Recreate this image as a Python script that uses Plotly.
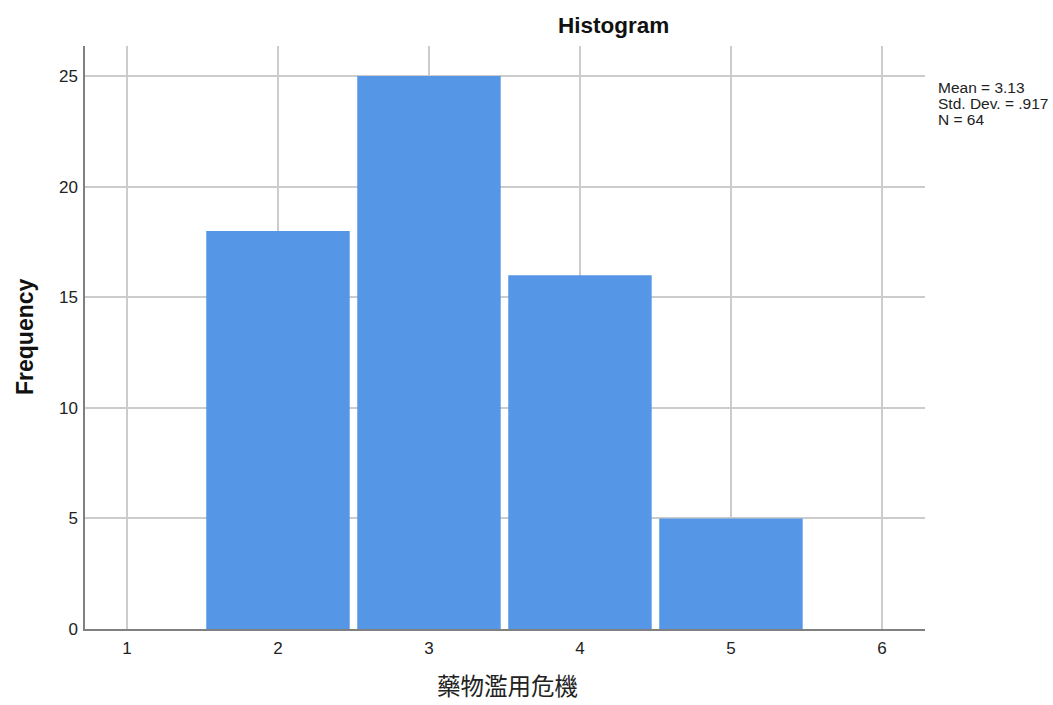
import plotly.graph_objects as go

bin_centers = [2, 3, 4, 5]
frequencies = [18, 25, 16, 5]
x_ticks = [1, 2, 3, 4, 5, 6]
y_ticks = [0, 5, 10, 15, 20, 25]
stats_lines = ["Mean = 3.13", "Std. Dev. = .917", "N = 64"]

# plot area in pixels (for placing text)
L, R, T, B = 85, 925, 46, 629
W, H = R - L, B - T
def px(x):
    return (x - L) / W
def py(y):
    return (B - y) / H

fig = go.Figure()
fig.add_trace(go.Bar(
    x=bin_centers, y=frequencies, width=0.95,
    marker=dict(color="#5596E6", line=dict(width=0)),
    hoverinfo="x+y",
))

fig.update_layout(
    width=1053, height=705,
    margin=dict(l=L, r=1053 - R, t=T, b=705 - B),
    paper_bgcolor="white", plot_bgcolor="white",
    showlegend=False,
    font=dict(family="Liberation Sans, Arial, sans-serif", size=15, color="#222"),
)
fig.update_xaxes(
    range=[0.722, 6.285], tickvals=x_ticks, ticktext=[str(v) for v in x_ticks],
    showgrid=True, gridcolor="#cccccc", gridwidth=1.5,
    showline=True, linecolor="#808080", linewidth=1.5,
    ticks="", zeroline=False, ticklabelstandoff=3,
    tickfont=dict(size=17, color="#222"),
)
fig.update_yaxes(
    range=[0, 26.36], tickvals=y_ticks,
    showgrid=True, gridcolor="#cccccc", gridwidth=1.5,
    showline=True, linecolor="#808080", linewidth=1.5,
    ticks="", zeroline=False, ticklabelstandoff=2,
    tickfont=dict(size=17, color="#222"),
)
# chart title
fig.add_annotation(
    x=px(613), xref="paper", y=py(25.5), yref="paper", yanchor="middle",
    text="<b>Histogram</b>", showarrow=False,
    font=dict(family="Liberation Sans, Arial", size=22.5, color="#111"),
)
# y-axis title
fig.add_annotation(
    x=px(25), xref="paper", y=py(337), yref="paper", xanchor="center", yanchor="middle",
    text="<b>Frequency</b>", textangle=-90, showarrow=False,
    font=dict(family="Liberation Sans, Arial", size=23, color="#111"),
)
# x-axis title
fig.add_annotation(
    x=px(507), xref="paper", y=py(704), yref="paper", xanchor="center", yanchor="bottom",
    text="藥物濫用危機", showarrow=False,
    font=dict(family="Noto Sans CJK TC", size=23.5, color="#222"),
)
# statistics text
for i, line in enumerate(stats_lines):
    fig.add_annotation(
        x=px(936), xref="paper", y=py(87.5 + 16 * i), yref="paper",
        xanchor="left", yanchor="middle", align="left", showarrow=False,
        text=line, font=dict(family="Liberation Sans, Arial", size=15.5, color="#222"),
    )
fig.write_html("out.html")
